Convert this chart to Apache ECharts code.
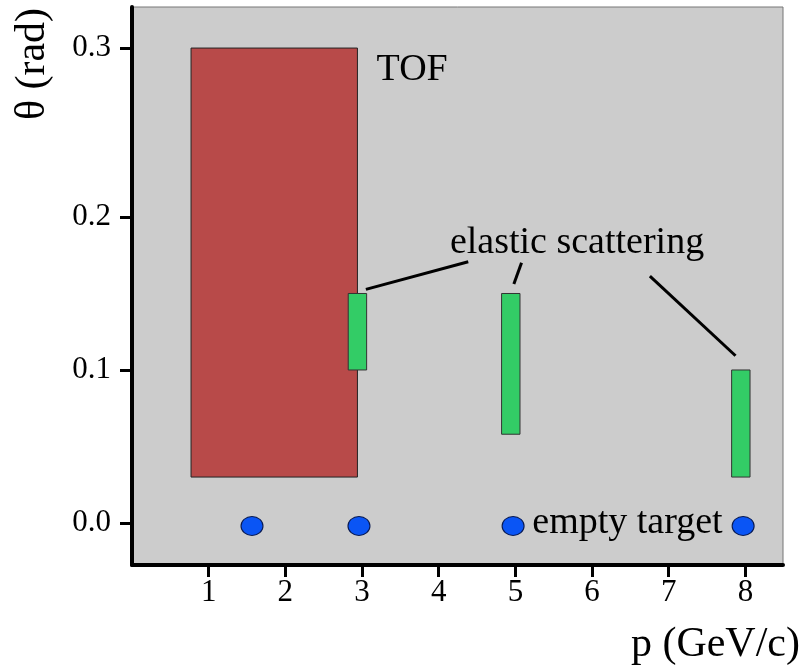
<!DOCTYPE html>
<html>
<head>
<meta charset="utf-8">
<script src="https://cdn.jsdelivr.net/npm/echarts@6/dist/echarts.min.js"></script>
<style>
html,body{margin:0;padding:0;background:#fff;}
#chart{width:803px;height:666px;}
</style>
</head>
<body>
<div id="chart"></div>
<script>
// ---- data ----
const xTicks = [1, 2, 3, 4, 5, 6, 7, 8];
const yTicks = [0, 0.1, 0.2, 0.3];
const tofP = [0.77, 2.94];
const tofTheta = [0.03, 0.30];
const elasticP = [[2.82, 3.06], [4.82, 5.06], [7.82, 8.06]];
const elasticTheta = [[0.10, 0.15], [0.058, 0.15], [0.03, 0.10]];
const emptyP = [1.565, 2.96, 4.97, 7.97];
const emptyTheta = [0, 0, 0, 0];
const leaderLines = [
  [[3.05, 0.1527], [4.385, 0.1708]],
  [[4.98, 0.1562], [5.08, 0.1701]],
  [[6.754, 0.1614], [7.871, 0.1093]]
];
const labelTexts = ['TOF', 'elastic scattering', 'empty target'];
const labelPos = [[3.19, 0.287], [4.146, 0.183], [5.22, 0.0]];

// the original θ axis is stretched above 0.2
const K = 1.1046;
function warp(v) { return v <= 0.2 ? v : 0.2 + (v - 0.2) * K; }
function unwarp(w) { return w <= 0.2 + 1e-9 ? w : 0.2 + (w - 0.2) / K; }

const FONT = 'Liberation Serif';
const red = '#b84a49', green = '#33cc66', blue = '#0a55f5';

const rects = [];
rects.push([tofP[0], tofP[1], warp(tofTheta[0]), warp(tofTheta[1]), 0]);
for (let i = 0; i < elasticP.length; i++) {
  rects.push([elasticP[i][0], elasticP[i][1], warp(elasticTheta[i][0]), warp(elasticTheta[i][1]), 1]);
}

const chart = echarts.init(document.getElementById('chart'));
const series = [
  {
    type: 'custom',
    data: rects,
    renderItem: function (params, api) {
      const p0 = api.coord([api.value(0), api.value(3)]);
      const p1 = api.coord([api.value(1), api.value(2)]);
      const isTof = api.value(4) === 0;
      return {
        type: 'rect',
        shape: { x: p0[0], y: p0[1], width: p1[0] - p0[0], height: p1[1] - p0[1] },
        style: { fill: isTof ? red : green, stroke: isTof ? '#222' : '#333', lineWidth: 1 }
      };
    },
    silent: true,
    z: 2
  },
  {
    type: 'scatter',
    data: emptyP.map((p, i) => [p, warp(emptyTheta[i])]),
    symbol: 'circle',
    symbolSize: [22, 19],
    symbolOffset: [0, 3],
    itemStyle: { color: blue, borderColor: '#0a1a50', borderWidth: 1, opacity: 1 },
    silent: true,
    z: 3
  }
];
leaderLines.forEach(function (ln) {
  series.push({
    type: 'line',
    data: ln.map(pt => [pt[0], warp(pt[1])]),
    showSymbol: false,
    symbol: 'none',
    lineStyle: { color: '#000', width: 3 },
    silent: true,
    z: 4
  });
});
series.push({
  type: 'scatter',
  data: labelPos.map((p, i) => ({ value: [p[0], warp(p[1])], name: labelTexts[i] })),
  symbolSize: 0,
  itemStyle: { opacity: 1 },
  label: {
    show: true,
    position: 'right',
    distance: 0,
    formatter: '{b}',
    color: '#000',
    opacity: 1,
    fontFamily: FONT,
    fontSize: 38
  },
  silent: true,
  z: 5
});

chart.setOption({
  animation: false,
  backgroundColor: '#fff',
  grid: {
    left: 132, top: 7, right: 20, bottom: 101,
    show: true, backgroundColor: '#cccccc', borderColor: '#777', borderWidth: 1
  },
  xAxis: {
    type: 'value', min: 0, max: 8.49,
    axisLine: { show: true, onZero: false, lineStyle: { color: '#000', width: 4 } },
    axisTick: { show: true, customValues: xTicks, length: 12, lineStyle: { color: '#000', width: 3 } },
    axisLabel: { customValues: xTicks, margin: 12, color: '#000', fontFamily: FONT, fontSize: 31 },
    splitLine: { show: false }
  },
  yAxis: {
    type: 'value', min: -0.0275, max: 0.3373,
    axisLine: { show: true, onZero: false, lineStyle: { color: '#000', width: 4 } },
    axisTick: { show: true, customValues: yTicks.map(warp), length: 12, lineStyle: { color: '#000', width: 3 } },
    axisLabel: {
      customValues: yTicks.map(warp), margin: 21, color: '#000', fontFamily: FONT, fontSize: 31,
      formatter: function (v) { return unwarp(v).toFixed(1); }
    },
    splitLine: { show: false }
  },
  graphic: [
    {
      type: 'text', x: 33, y: 64, rotation: Math.PI / 2,
      style: { text: 'θ (rad)', fontFamily: FONT, fontSize: 42, fill: '#000', align: 'center', verticalAlign: 'middle' }
    },
    {
      type: 'text', x: 800, y: 645,
      style: { text: 'p (GeV/c)', fontFamily: FONT, fontSize: 42, fill: '#000', align: 'right', verticalAlign: 'middle' }
    }
  ],
  series: series
});
</script>
</body>
</html>
